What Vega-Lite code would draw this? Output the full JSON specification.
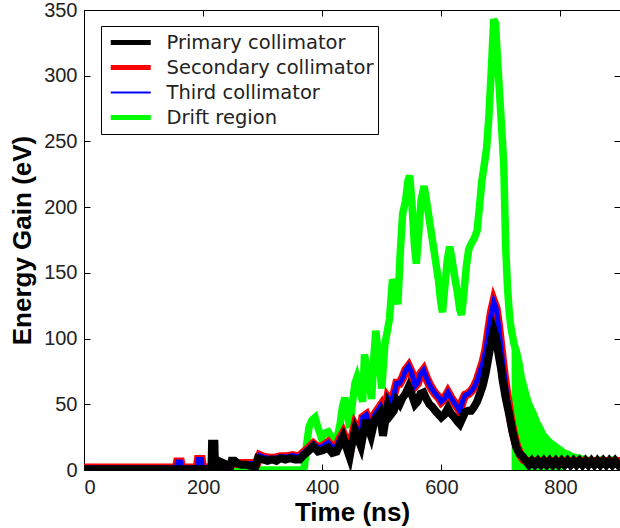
{
  "$schema": "https://vega.github.io/schema/vega-lite/v6.json",
  "width": 536,
  "height": 460,
  "autosize": {"type": "none"},
  "padding": {"left": 84, "top": 10, "right": 0, "bottom": 58},
  "background": "white",
  "config": {
    "view": {"stroke": "#000", "strokeWidth": 1},
    "axis": {
      "grid": false,
      "domainColor": "#000",
      "tickColor": "#000",
      "tickSize": -6,
      "labelPadding": 13,
      "labelFont": "Liberation Sans",
      "labelFontSize": 20,
      "labelColor": "#222",
      "titleFont": "Liberation Sans",
      "titleFontSize": 26,
      "titleFontWeight": "bold",
      "titleColor": "#000"
    }
  },
  "datasets": {
    "driftband": [
      {"time": 718, "gain": 105}, {"time": 722, "gain": 97}, {"time": 726, "gain": 91}, {"time": 730, "gain": 83},
      {"time": 734, "gain": 72}, {"time": 738, "gain": 65}, {"time": 742, "gain": 58}, {"time": 746, "gain": 52},
      {"time": 750, "gain": 48}, {"time": 755, "gain": 43}, {"time": 760, "gain": 37}, {"time": 765, "gain": 33},
      {"time": 770, "gain": 28}, {"time": 776, "gain": 25}, {"time": 782, "gain": 22}, {"time": 788, "gain": 20},
      {"time": 794, "gain": 18}, {"time": 800, "gain": 16}, {"time": 806, "gain": 14}
    ],
    "drift": [
      {"time": 0, "gain": 0}, {"time": 365, "gain": 0}, {"time": 370, "gain": 2}, {"time": 374, "gain": 20},
      {"time": 378, "gain": 33}, {"time": 383, "gain": 38}, {"time": 388, "gain": 40}, {"time": 393, "gain": 32},
      {"time": 399, "gain": 24}, {"time": 404, "gain": 28}, {"time": 410, "gain": 29}, {"time": 417, "gain": 24},
      {"time": 424, "gain": 22}, {"time": 430, "gain": 35}, {"time": 434, "gain": 48}, {"time": 438, "gain": 55},
      {"time": 442, "gain": 45}, {"time": 446, "gain": 32}, {"time": 451, "gain": 52}, {"time": 455, "gain": 66},
      {"time": 458, "gain": 70}, {"time": 463, "gain": 60}, {"time": 468, "gain": 52}, {"time": 471, "gain": 88},
      {"time": 477, "gain": 72}, {"time": 483, "gain": 54}, {"time": 487, "gain": 88}, {"time": 490, "gain": 106},
      {"time": 495, "gain": 85}, {"time": 500, "gain": 62}, {"time": 505, "gain": 95}, {"time": 513, "gain": 115},
      {"time": 518, "gain": 145}, {"time": 523, "gain": 140}, {"time": 527, "gain": 126}, {"time": 531, "gain": 165},
      {"time": 535, "gain": 195}, {"time": 540, "gain": 205}, {"time": 544, "gain": 220}, {"time": 547, "gain": 224},
      {"time": 551, "gain": 200}, {"time": 555, "gain": 170}, {"time": 558, "gain": 157}, {"time": 562, "gain": 180},
      {"time": 566, "gain": 205}, {"time": 571, "gain": 216}, {"time": 575, "gain": 205}, {"time": 580, "gain": 190},
      {"time": 585, "gain": 175}, {"time": 590, "gain": 160}, {"time": 595, "gain": 145}, {"time": 599, "gain": 128},
      {"time": 602, "gain": 120}, {"time": 606, "gain": 140}, {"time": 610, "gain": 160}, {"time": 614, "gain": 170},
      {"time": 618, "gain": 160}, {"time": 622, "gain": 148}, {"time": 627, "gain": 135}, {"time": 631, "gain": 122},
      {"time": 634, "gain": 118}, {"time": 638, "gain": 135}, {"time": 642, "gain": 155}, {"time": 646, "gain": 168},
      {"time": 650, "gain": 172}, {"time": 655, "gain": 176}, {"time": 660, "gain": 182}, {"time": 664, "gain": 200},
      {"time": 668, "gain": 220}, {"time": 672, "gain": 232}, {"time": 676, "gain": 245}, {"time": 680, "gain": 270},
      {"time": 684, "gain": 305}, {"time": 688, "gain": 343}, {"time": 691, "gain": 340}, {"time": 694, "gain": 315},
      {"time": 698, "gain": 285}, {"time": 702, "gain": 255}, {"time": 705, "gain": 230}, {"time": 708, "gain": 170},
      {"time": 711, "gain": 140}, {"time": 714, "gain": 120}, {"time": 717, "gain": 108}, {"time": 722, "gain": 96},
      {"time": 726, "gain": 90}, {"time": 730, "gain": 82}, {"time": 734, "gain": 71}, {"time": 738, "gain": 64},
      {"time": 742, "gain": 57}, {"time": 746, "gain": 51}, {"time": 750, "gain": 47}, {"time": 755, "gain": 42},
      {"time": 760, "gain": 36}, {"time": 765, "gain": 32}, {"time": 770, "gain": 27}, {"time": 776, "gain": 24},
      {"time": 782, "gain": 21}, {"time": 788, "gain": 19}, {"time": 794, "gain": 17}, {"time": 800, "gain": 15},
      {"time": 806, "gain": 13}, {"time": 812, "gain": 12}, {"time": 820, "gain": 10}, {"time": 830, "gain": 9},
      {"time": 840, "gain": 8}, {"time": 850, "gain": 7}, {"time": 860, "gain": 6}, {"time": 870, "gain": 8},
      {"time": 880, "gain": 6}, {"time": 890, "gain": 8}, {"time": 900, "gain": 6}
    ],
    "secondary": [
      {"time": 0, "gain": 1.5}, {"time": 155, "gain": 1.5}, {"time": 157, "gain": 6}, {"time": 162, "gain": 6},
      {"time": 164, "gain": 1.5}, {"time": 190, "gain": 1.5}, {"time": 192, "gain": 8}, {"time": 197, "gain": 8},
      {"time": 199, "gain": 1.5}, {"time": 228, "gain": 1.5}, {"time": 250, "gain": 5}, {"time": 270, "gain": 5},
      {"time": 290, "gain": 5}, {"time": 295, "gain": 11}, {"time": 300, "gain": 10}, {"time": 310, "gain": 9},
      {"time": 320, "gain": 9}, {"time": 330, "gain": 10}, {"time": 340, "gain": 10}, {"time": 350, "gain": 11},
      {"time": 360, "gain": 10}, {"time": 368, "gain": 13}, {"time": 376, "gain": 16}, {"time": 385, "gain": 20},
      {"time": 393, "gain": 17}, {"time": 401, "gain": 18}, {"time": 410, "gain": 21}, {"time": 417, "gain": 17},
      {"time": 424, "gain": 18}, {"time": 430, "gain": 24}, {"time": 435, "gain": 28}, {"time": 440, "gain": 22},
      {"time": 446, "gain": 14}, {"time": 450, "gain": 24}, {"time": 455, "gain": 34}, {"time": 460, "gain": 30},
      {"time": 465, "gain": 26}, {"time": 468, "gain": 40}, {"time": 474, "gain": 42}, {"time": 479, "gain": 36},
      {"time": 482, "gain": 33}, {"time": 488, "gain": 42}, {"time": 497, "gain": 48}, {"time": 502, "gain": 34},
      {"time": 506, "gain": 45}, {"time": 510, "gain": 55}, {"time": 515, "gain": 52}, {"time": 520, "gain": 57},
      {"time": 525, "gain": 66}, {"time": 530, "gain": 66}, {"time": 535, "gain": 70}, {"time": 540, "gain": 76},
      {"time": 545, "gain": 79}, {"time": 550, "gain": 74}, {"time": 556, "gain": 64}, {"time": 560, "gain": 66},
      {"time": 565, "gain": 73}, {"time": 570, "gain": 76}, {"time": 575, "gain": 70}, {"time": 580, "gain": 65},
      {"time": 585, "gain": 61}, {"time": 590, "gain": 58}, {"time": 596, "gain": 55}, {"time": 600, "gain": 52},
      {"time": 605, "gain": 54}, {"time": 611, "gain": 59}, {"time": 616, "gain": 55}, {"time": 622, "gain": 51},
      {"time": 627, "gain": 48}, {"time": 631, "gain": 45}, {"time": 636, "gain": 53}, {"time": 640, "gain": 57},
      {"time": 645, "gain": 58}, {"time": 650, "gain": 60}, {"time": 655, "gain": 63}, {"time": 660, "gain": 68},
      {"time": 665, "gain": 75}, {"time": 670, "gain": 82}, {"time": 675, "gain": 92}, {"time": 680, "gain": 108},
      {"time": 684, "gain": 120}, {"time": 688, "gain": 128}, {"time": 692, "gain": 123}, {"time": 696, "gain": 110},
      {"time": 700, "gain": 94}, {"time": 704, "gain": 78}, {"time": 708, "gain": 64}, {"time": 712, "gain": 52},
      {"time": 716, "gain": 40}, {"time": 720, "gain": 30}, {"time": 726, "gain": 19}, {"time": 732, "gain": 12},
      {"time": 738, "gain": 8}, {"time": 745, "gain": 6.5}, {"time": 900, "gain": 6.5}
    ],
    "third": [
      {"time": 0, "gain": 1.5}, {"time": 155, "gain": 1.5}, {"time": 157, "gain": 6}, {"time": 162, "gain": 6},
      {"time": 164, "gain": 1.5}, {"time": 190, "gain": 1.5}, {"time": 192, "gain": 8}, {"time": 197, "gain": 8},
      {"time": 199, "gain": 1.5}, {"time": 228, "gain": 1.5}, {"time": 250, "gain": 5}, {"time": 270, "gain": 5},
      {"time": 290, "gain": 5}, {"time": 295, "gain": 11}, {"time": 300, "gain": 10}, {"time": 310, "gain": 9},
      {"time": 320, "gain": 9}, {"time": 330, "gain": 10}, {"time": 340, "gain": 10}, {"time": 350, "gain": 11},
      {"time": 360, "gain": 10}, {"time": 368, "gain": 13}, {"time": 376, "gain": 16}, {"time": 385, "gain": 20},
      {"time": 393, "gain": 17}, {"time": 401, "gain": 18}, {"time": 410, "gain": 21}, {"time": 417, "gain": 17},
      {"time": 424, "gain": 18}, {"time": 430, "gain": 24}, {"time": 435, "gain": 28}, {"time": 440, "gain": 22},
      {"time": 446, "gain": 14}, {"time": 450, "gain": 24}, {"time": 455, "gain": 34}, {"time": 460, "gain": 30},
      {"time": 465, "gain": 26}, {"time": 468, "gain": 40}, {"time": 474, "gain": 42}, {"time": 479, "gain": 36},
      {"time": 482, "gain": 33}, {"time": 488, "gain": 42}, {"time": 497, "gain": 48}, {"time": 502, "gain": 34},
      {"time": 506, "gain": 45}, {"time": 510, "gain": 55}, {"time": 515, "gain": 52}, {"time": 520, "gain": 57},
      {"time": 525, "gain": 66}, {"time": 530, "gain": 66}, {"time": 535, "gain": 70}, {"time": 540, "gain": 76},
      {"time": 545, "gain": 79}, {"time": 550, "gain": 74}, {"time": 556, "gain": 64}, {"time": 560, "gain": 66},
      {"time": 565, "gain": 73}, {"time": 570, "gain": 76}, {"time": 575, "gain": 70}, {"time": 580, "gain": 65},
      {"time": 585, "gain": 61}, {"time": 590, "gain": 58}, {"time": 596, "gain": 55}, {"time": 600, "gain": 52},
      {"time": 605, "gain": 54}, {"time": 611, "gain": 59}, {"time": 616, "gain": 55}, {"time": 622, "gain": 51},
      {"time": 627, "gain": 48}, {"time": 631, "gain": 45}, {"time": 636, "gain": 53}, {"time": 640, "gain": 57},
      {"time": 645, "gain": 58}, {"time": 650, "gain": 60}, {"time": 655, "gain": 63}, {"time": 660, "gain": 68},
      {"time": 665, "gain": 75}, {"time": 670, "gain": 82}, {"time": 675, "gain": 92}, {"time": 680, "gain": 108},
      {"time": 684, "gain": 120}, {"time": 688, "gain": 128}, {"time": 692, "gain": 123}, {"time": 696, "gain": 110},
      {"time": 700, "gain": 94}, {"time": 704, "gain": 78}, {"time": 708, "gain": 64}, {"time": 712, "gain": 52},
      {"time": 716, "gain": 40}, {"time": 720, "gain": 30}, {"time": 726, "gain": 19}, {"time": 732, "gain": 12},
      {"time": 738, "gain": 8}, {"time": 745, "gain": 5.5}, {"time": 900, "gain": 5.5}
    ],
    "primary": [
      {"time": 0, "gain": 0.5}, {"time": 214, "gain": 0.5}, {"time": 215, "gain": 20}, {"time": 219, "gain": 20},
      {"time": 220, "gain": 0.5}, {"time": 228, "gain": 0.5}, {"time": 230, "gain": 6}, {"time": 235, "gain": 5},
      {"time": 238, "gain": 1}, {"time": 245, "gain": 1}, {"time": 248, "gain": 7}, {"time": 253, "gain": 7},
      {"time": 258, "gain": 5}, {"time": 264, "gain": 4}, {"time": 272, "gain": 4}, {"time": 280, "gain": 3},
      {"time": 288, "gain": 3}, {"time": 292, "gain": 9}, {"time": 300, "gain": 8}, {"time": 308, "gain": 7},
      {"time": 316, "gain": 8}, {"time": 323, "gain": 7}, {"time": 330, "gain": 9}, {"time": 338, "gain": 8},
      {"time": 346, "gain": 9}, {"time": 354, "gain": 8}, {"time": 362, "gain": 8}, {"time": 368, "gain": 11},
      {"time": 376, "gain": 14}, {"time": 385, "gain": 18}, {"time": 393, "gain": 14}, {"time": 401, "gain": 15},
      {"time": 410, "gain": 17}, {"time": 417, "gain": 13}, {"time": 424, "gain": 14}, {"time": 430, "gain": 20},
      {"time": 435, "gain": 25}, {"time": 440, "gain": 18}, {"time": 446, "gain": 10}, {"time": 450, "gain": 20},
      {"time": 455, "gain": 30}, {"time": 460, "gain": 24}, {"time": 465, "gain": 18}, {"time": 470, "gain": 30},
      {"time": 474, "gain": 38}, {"time": 479, "gain": 30}, {"time": 482, "gain": 26}, {"time": 488, "gain": 38},
      {"time": 497, "gain": 43}, {"time": 502, "gain": 26}, {"time": 506, "gain": 38}, {"time": 510, "gain": 48},
      {"time": 515, "gain": 42}, {"time": 520, "gain": 45}, {"time": 525, "gain": 53}, {"time": 530, "gain": 50},
      {"time": 535, "gain": 55}, {"time": 540, "gain": 58}, {"time": 545, "gain": 63}, {"time": 550, "gain": 58},
      {"time": 556, "gain": 50}, {"time": 560, "gain": 52}, {"time": 565, "gain": 58}, {"time": 570, "gain": 59},
      {"time": 575, "gain": 54}, {"time": 580, "gain": 50}, {"time": 585, "gain": 48}, {"time": 590, "gain": 45},
      {"time": 596, "gain": 42}, {"time": 600, "gain": 40}, {"time": 605, "gain": 42}, {"time": 611, "gain": 47},
      {"time": 616, "gain": 43}, {"time": 622, "gain": 40}, {"time": 627, "gain": 37}, {"time": 631, "gain": 35},
      {"time": 636, "gain": 40}, {"time": 640, "gain": 44}, {"time": 645, "gain": 45}, {"time": 650, "gain": 45},
      {"time": 655, "gain": 48}, {"time": 660, "gain": 52}, {"time": 665, "gain": 58}, {"time": 670, "gain": 65},
      {"time": 675, "gain": 75}, {"time": 680, "gain": 88}, {"time": 685, "gain": 100}, {"time": 688, "gain": 106},
      {"time": 692, "gain": 100}, {"time": 696, "gain": 88}, {"time": 700, "gain": 78}, {"time": 703, "gain": 68},
      {"time": 708, "gain": 55}, {"time": 715, "gain": 40}, {"time": 720, "gain": 28}, {"time": 726, "gain": 17},
      {"time": 732, "gain": 12}, {"time": 737, "gain": 10}, {"time": 742, "gain": 7}, {"time": 747, "gain": 4},
      {"time": 752, "gain": 7}, {"time": 757, "gain": 4}, {"time": 762, "gain": 7}, {"time": 767, "gain": 4},
      {"time": 772, "gain": 7}, {"time": 777, "gain": 4}, {"time": 782, "gain": 7}, {"time": 787, "gain": 4},
      {"time": 792, "gain": 7}, {"time": 797, "gain": 4}, {"time": 802, "gain": 7}, {"time": 807, "gain": 4},
      {"time": 812, "gain": 7}, {"time": 817, "gain": 4}, {"time": 822, "gain": 7}, {"time": 827, "gain": 4},
      {"time": 832, "gain": 7}, {"time": 837, "gain": 4}, {"time": 842, "gain": 7}, {"time": 847, "gain": 4},
      {"time": 852, "gain": 7}, {"time": 857, "gain": 4}, {"time": 862, "gain": 7}, {"time": 867, "gain": 4},
      {"time": 872, "gain": 7}, {"time": 877, "gain": 4}, {"time": 882, "gain": 7}, {"time": 887, "gain": 4},
      {"time": 892, "gain": 7}, {"time": 897, "gain": 4}, {"time": 900, "gain": 6}
    ]
  },
  "layer": [
    {
      "data": {"name": "driftband"},
      "mark": {"type": "area", "color": "#00ff00", "clip": true},
      "encoding": {
        "x": {
          "field": "time", "type": "quantitative",
          "scale": {"domain": [0, 900], "nice": false, "zero": false},
          "axis": {"orient": "bottom", "values": [0, 200, 400, 600, 800], "title": "Time (ns)", "titleX": 268, "titleY": 42, "titleBaseline": "middle"}
        },
        "y": {
          "field": "gain", "type": "quantitative",
          "scale": {"domain": [0, 350], "nice": false},
          "axis": {"orient": "left", "values": [0, 50, 100, 150, 200, 250, 300, 350], "title": "Energy Gain (eV)", "titleX": -62, "titleBaseline": "middle"}
        }
      }
    },
    {
      "data": {"name": "drift"},
      "mark": {"type": "line", "strokeWidth": 7.5, "clip": true},
      "encoding": {
        "x": {"field": "time", "type": "quantitative", "axis": null},
        "y": {"field": "gain", "type": "quantitative", "axis": null},
        "color": {
          "datum": "Drift region", "type": "nominal",
          "scale": {
            "domain": ["Primary collimator", "Secondary collimator", "Third collimator", "Drift region"],
            "range": ["#000000", "#ff0000", "#0000ff", "#00ff00"]
          },
          "legend": {
            "orient": "none", "legendX": 17, "legendY": 16, "title": null,
            "symbolType": "stroke", "symbolSize": 1600, "clipHeight": 25, "rowPadding": 0,
            "padding": 4, "symbolOffset": 16, "labelOffset": 26,
            "strokeColor": "#000", "fillColor": "#fff",
            "labelFont": "DejaVu Sans", "labelFontSize": 19.5, "labelColor": "#222", "labelLimit": 400,
            "symbolStrokeWidth": 5,
            "encode": {"symbols": {"update": {"strokeWidth": {"signal": "datum.value === 'Third collimator' ? 2 : 5"}}}}
          }
        }
      }
    },
    {
      "data": {"name": "secondary"},
      "mark": {"type": "line", "strokeWidth": 9, "clip": true},
      "encoding": {
        "x": {"field": "time", "type": "quantitative", "axis": null},
        "y": {"field": "gain", "type": "quantitative", "axis": null},
        "color": {"datum": "Secondary collimator", "type": "nominal"}
      }
    },
    {
      "data": {"name": "third"},
      "mark": {"type": "line", "strokeWidth": 5, "clip": true},
      "encoding": {
        "x": {"field": "time", "type": "quantitative", "axis": null},
        "y": {"field": "gain", "type": "quantitative", "axis": null},
        "color": {"datum": "Third collimator", "type": "nominal"}
      }
    },
    {
      "data": {"name": "primary"},
      "mark": {"type": "line", "strokeWidth": 8, "clip": true},
      "encoding": {
        "x": {"field": "time", "type": "quantitative", "axis": {"orient": "top", "values": [0, 200, 400, 600, 800], "labels": false, "title": null, "domain": false}},
        "y": {"field": "gain", "type": "quantitative", "axis": {"orient": "right", "values": [0, 50, 100, 150, 200, 250, 300, 350], "labels": false, "title": null, "domain": false}},
        "color": {"datum": "Primary collimator", "type": "nominal"}
      }
    }
  ],
  "resolve": {"axis": {"x": "independent", "y": "independent"}}
}
